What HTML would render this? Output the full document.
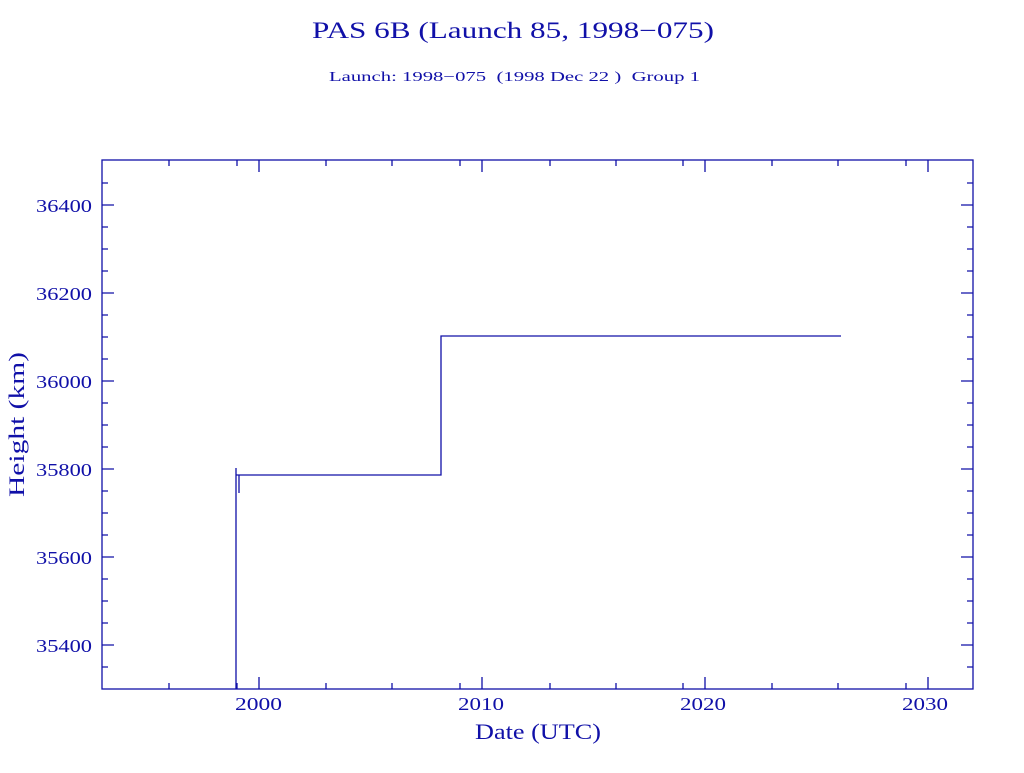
<!DOCTYPE html>
<html><head><style>body{margin:0;background:#fff}</style></head><body>
<svg width="1024" height="768" xmlns="http://www.w3.org/2000/svg" font-family="Liberation Serif, serif" fill="#1010a8">
<text x="312" y="38" font-size="23" textLength="402" lengthAdjust="spacingAndGlyphs">PAS 6B (Launch 85, 1998−075)</text>
<text x="329" y="81" font-size="14" textLength="371" lengthAdjust="spacingAndGlyphs" xml:space="preserve">Launch: 1998−075  (1998 Dec 22 )  Group 1</text>
<g stroke="#1010a8" stroke-width="1.3" fill="none">
<rect x="102" y="160" width="871" height="529"/>
<path d="M259,689v-12M482,689v-12M705,689v-12M928,689v-12M259,160v12M482,160v12M705,160v12M928,160v12"/>
<path d="M169,689v-6M237,689v-6M326,689v-6M392,689v-6M460,689v-6M550,689v-6M616,689v-6M683,689v-6M772,689v-6M838,689v-6M906,689v-6M169,160v6M237,160v6M326,160v6M392,160v6M460,160v6M550,160v6M616,160v6M683,160v6M772,160v6M838,160v6M906,160v6"/>
<path d="M102,205h12M102,293h12M102,381h12M102,469h12M102,557h12M102,645h12M973,205h-12M973,293h-12M973,381h-12M973,469h-12M973,557h-12M973,645h-12"/>
<path d="M102,183h6M102,227h6M102,249h6M102,271h6M102,315h6M102,337h6M102,359h6M102,403h6M102,425h6M102,447h6M102,491h6M102,513h6M102,535h6M102,579h6M102,601h6M102,623h6M102,667h6M973,183h-6M973,227h-6M973,249h-6M973,271h-6M973,315h-6M973,337h-6M973,359h-6M973,403h-6M973,425h-6M973,447h-6M973,491h-6M973,513h-6M973,535h-6M973,579h-6M973,601h-6M973,623h-6M973,667h-6"/>
<path d="M236,689V468M236,475H441V336H841M239,475v18"/>
</g>
<g font-size="18">
<text x="36" y="212" textLength="56" lengthAdjust="spacingAndGlyphs">36400</text>
<text x="36" y="300" textLength="56" lengthAdjust="spacingAndGlyphs">36200</text>
<text x="36" y="388" textLength="56" lengthAdjust="spacingAndGlyphs">36000</text>
<text x="36" y="476" textLength="56" lengthAdjust="spacingAndGlyphs">35800</text>
<text x="36" y="564" textLength="56" lengthAdjust="spacingAndGlyphs">35600</text>
<text x="36" y="652" textLength="56" lengthAdjust="spacingAndGlyphs">35400</text>
</g>
<g font-size="18">
<text x="235" y="710" textLength="47" lengthAdjust="spacingAndGlyphs">2000</text>
<text x="458" y="710" textLength="46" lengthAdjust="spacingAndGlyphs">2010</text>
<text x="680" y="710" textLength="46" lengthAdjust="spacingAndGlyphs">2020</text>
<text x="902" y="710" textLength="46" lengthAdjust="spacingAndGlyphs">2030</text>
</g>
<text x="475" y="739" font-size="22" textLength="126" lengthAdjust="spacingAndGlyphs">Date (UTC)</text>
<text transform="translate(24,497) rotate(-90)" font-size="22" textLength="145" lengthAdjust="spacingAndGlyphs">Height (km)</text>
</svg>
</body></html>
